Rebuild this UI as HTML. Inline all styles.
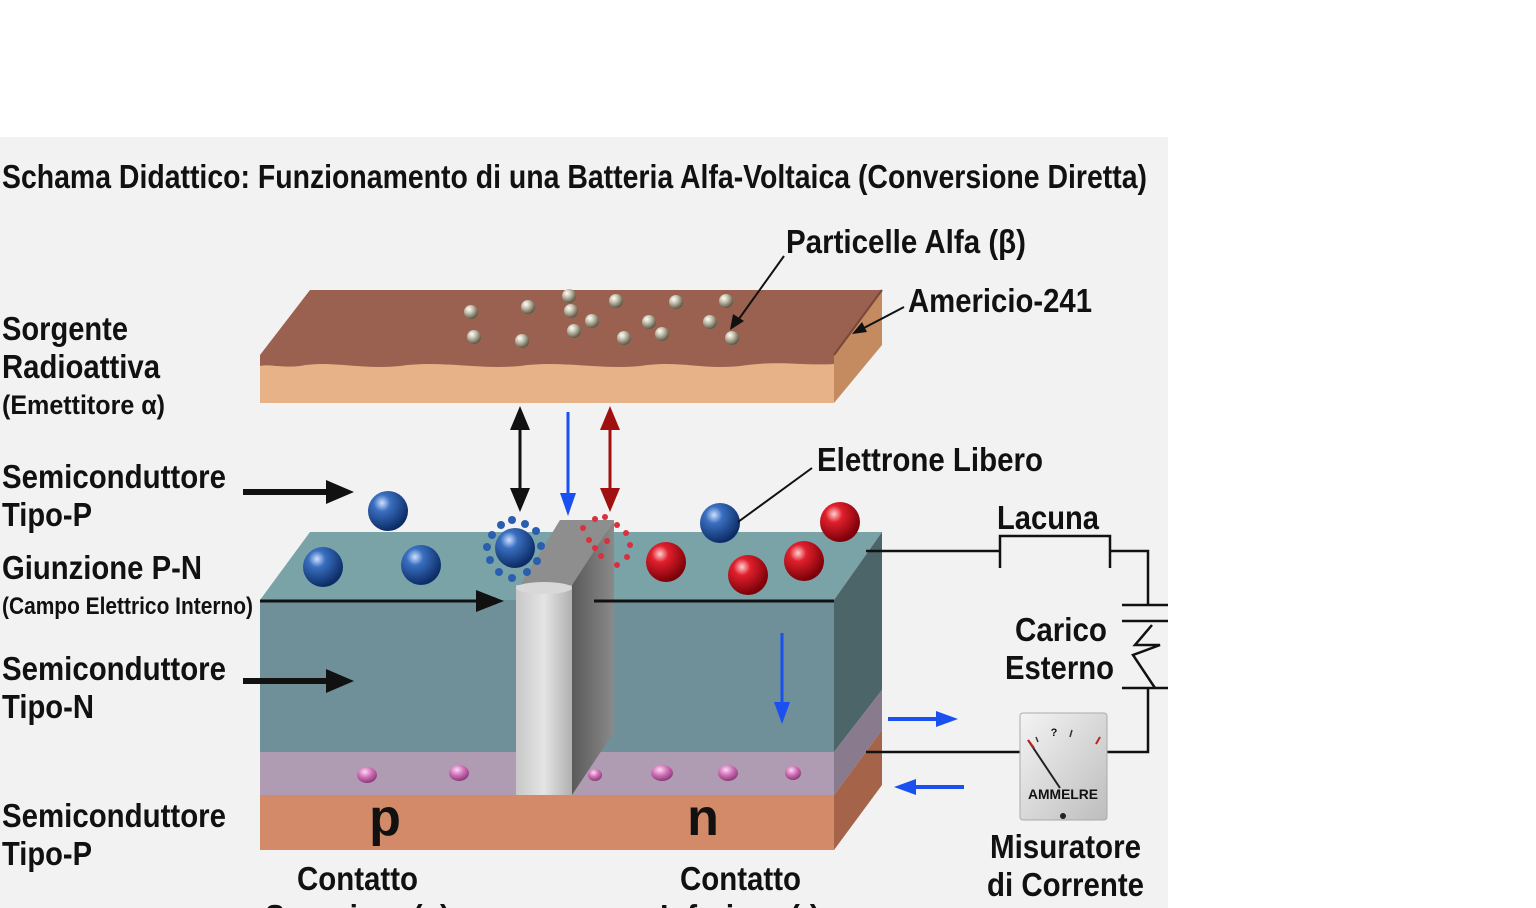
<!DOCTYPE html>
<html><head><meta charset="utf-8"><style>
html,body{margin:0;padding:0;background:#fff;width:1536px;height:908px;overflow:hidden}
svg{display:block}
text{font-family:"Liberation Sans Narrow","Liberation Sans",sans-serif;font-weight:bold;fill:#111}
</style></head><body>
<svg width="1536" height="908" viewBox="0 0 1536 908" xmlns="http://www.w3.org/2000/svg">
<defs>
<radialGradient id="bb" cx="0.35" cy="0.3" r="0.7"><stop offset="0" stop-color="#cfe0ff"/><stop offset="0.3" stop-color="#3a6fc0"/><stop offset="1" stop-color="#0c2c66"/></radialGradient>
<radialGradient id="rb" cx="0.35" cy="0.3" r="0.7"><stop offset="0" stop-color="#ffd0d0"/><stop offset="0.3" stop-color="#e0202c"/><stop offset="1" stop-color="#7a0008"/></radialGradient>
<radialGradient id="gb" cx="0.35" cy="0.3" r="0.7"><stop offset="0" stop-color="#ffffff"/><stop offset="0.4" stop-color="#c8c4b0"/><stop offset="1" stop-color="#5e5a48"/></radialGradient>
<radialGradient id="pb" cx="0.4" cy="0.3" r="0.7"><stop offset="0" stop-color="#ffd8f4"/><stop offset="0.5" stop-color="#d070b8"/><stop offset="1" stop-color="#8a3a78"/></radialGradient>
<linearGradient id="pil" x1="0" x2="1"><stop offset="0" stop-color="#c8c8c8"/><stop offset="0.5" stop-color="#e4e4e4"/><stop offset="1" stop-color="#b0b0b0"/></linearGradient>
<linearGradient id="pils" x1="0" x2="1"><stop offset="0" stop-color="#5a5a5a"/><stop offset="1" stop-color="#8a8a8a"/></linearGradient>
<linearGradient id="met" x1="0" y1="0" x2="1" y2="1"><stop offset="0" stop-color="#f4f4f4"/><stop offset="1" stop-color="#bdbdbd"/></linearGradient>
<marker id="ak" markerWidth="8" markerHeight="8" refX="6" refY="4" orient="auto" markerUnits="userSpaceOnUse"><path d="M0,0 L8,4 L0,8z" fill="#111"/></marker>
</defs>
<rect x="0" y="137" width="1168" height="771" fill="#f2f2f2"/>
<text x="2" y="188" font-size="33" textLength="1145" lengthAdjust="spacingAndGlyphs">Schama Didattico: Funzionamento di una Batteria Alfa-Voltaica (Conversione Diretta)</text>

<!-- top slab -->
<polygon points="260,355 310,290 882,290 834,355" fill="#9a6150"/>
<polygon points="834,355 882,290 882,345 834,403" fill="#c48a60"/>
<polygon points="260,355 834,355 834,403 260,403" fill="#e8b288"/>
<path d="M260,355 L834,355 L834,364 C800,366 780,360 740,366 C700,370 680,360 640,366 C600,370 560,360 520,366 C480,370 440,360 400,366 C360,370 330,360 300,366 C280,368 270,364 260,366Z" fill="#9a6150"/>
<line x1="834" y1="355" x2="882" y2="290" stroke="#7a4638" stroke-width="2"/>
<g fill="url(#gb)">
<circle cx="471" cy="312" r="7"/><circle cx="528" cy="307" r="7"/><circle cx="569" cy="296" r="7"/><circle cx="571" cy="311" r="7"/><circle cx="616" cy="301" r="7"/><circle cx="676" cy="302" r="7"/><circle cx="726" cy="301" r="7"/>
<circle cx="474" cy="337" r="7"/><circle cx="522" cy="341" r="7"/><circle cx="574" cy="331" r="7"/><circle cx="592" cy="321" r="7"/><circle cx="624" cy="338" r="7"/><circle cx="649" cy="322" r="7"/><circle cx="662" cy="334" r="7"/><circle cx="710" cy="322" r="7"/><circle cx="732" cy="338" r="7"/>
</g>

<!-- lower block -->
<polygon points="260,600 310,532 882,532 834,600" fill="#7aa3a8"/>
<rect x="260" y="600" width="574" height="152" fill="#6f9098"/>
<rect x="260" y="752" width="574" height="43" fill="#b09cb2"/>
<rect x="260" y="795" width="574" height="55" fill="#d28a68"/>
<polygon points="834,600 882,532 882,690 834,752" fill="#4b6569"/>
<polygon points="834,752 882,690 882,730 834,795" fill="#8a7a8e"/>
<polygon points="834,795 882,730 882,785 834,850" fill="#a5644a"/>
<g fill="url(#pb)">
<ellipse cx="367" cy="775" rx="10" ry="8"/><ellipse cx="459" cy="773" rx="10" ry="8"/><ellipse cx="595" cy="775" rx="7" ry="6"/><ellipse cx="662" cy="773" rx="11" ry="8"/><ellipse cx="728" cy="773" rx="10" ry="8"/><ellipse cx="793" cy="773" rx="8" ry="7"/>
</g>
<!-- pillar -->
<polygon points="572,585 614,520 614,732 572,795" fill="url(#pils)"/>
<polygon points="516,592 560,520 614,520 572,585" fill="#8e8e8e"/>
<rect x="516" y="585" width="56" height="210" fill="url(#pil)"/>
<ellipse cx="544" cy="588" rx="28" ry="6" fill="#d8d8d8"/>
<!-- inner lines -->
<line x1="260" y1="601" x2="500" y2="601" stroke="#111" stroke-width="3" marker-end="url(#ak)"/>
<polygon points="476,590 504,601 476,612" fill="#111"/>
<line x1="594" y1="601" x2="834" y2="601" stroke="#111" stroke-width="3"/>
<text x="385" y="835" font-size="52" text-anchor="middle">p</text>
<text x="703" y="835" font-size="52" text-anchor="middle">n</text>

<!-- balls -->
<circle cx="388" cy="511" r="20" fill="url(#bb)"/>
<circle cx="323" cy="567" r="20" fill="url(#bb)"/>
<circle cx="421" cy="565" r="20" fill="url(#bb)"/>
<circle cx="515" cy="548" r="20" fill="url(#bb)"/>
<g fill="#2a5fb0"><circle cx="492" cy="535" r="4"/><circle cx="501" cy="525" r="4"/><circle cx="512" cy="520" r="4"/><circle cx="525" cy="524" r="4"/><circle cx="536" cy="531" r="4"/><circle cx="541" cy="546" r="4"/><circle cx="537" cy="561" r="4"/><circle cx="527" cy="572" r="4"/><circle cx="512" cy="578" r="4"/><circle cx="499" cy="572" r="4"/><circle cx="490" cy="560" r="4"/><circle cx="487" cy="547" r="4"/></g>
<g fill="#d8303c"><circle cx="583" cy="528" r="3"/><circle cx="595" cy="519" r="3"/><circle cx="605" cy="517" r="3"/><circle cx="617" cy="525" r="3"/><circle cx="626" cy="533" r="3"/><circle cx="630" cy="545" r="3"/><circle cx="627" cy="557" r="3"/><circle cx="617" cy="565" r="3"/><circle cx="595" cy="548" r="3"/><circle cx="607" cy="541" r="3"/><circle cx="589" cy="540" r="3"/><circle cx="601" cy="556" r="3"/></g>
<circle cx="720" cy="523" r="20" fill="url(#bb)"/>
<circle cx="840" cy="522" r="20" fill="url(#rb)"/>
<circle cx="666" cy="562" r="20" fill="url(#rb)"/>
<circle cx="748" cy="575" r="20" fill="url(#rb)"/>
<circle cx="804" cy="561" r="20" fill="url(#rb)"/>

<!-- vertical arrows -->
<line x1="520" y1="425" x2="520" y2="492" stroke="#111" stroke-width="3"/>
<polygon points="510,430 520,406 530,430" fill="#111"/><polygon points="510,488 520,512 530,488" fill="#111"/>
<line x1="568" y1="412" x2="568" y2="495" stroke="#1a4ff0" stroke-width="3"/>
<polygon points="560,493 568,516 576,493" fill="#1a4ff0"/>
<line x1="610" y1="425" x2="610" y2="492" stroke="#a01010" stroke-width="3"/>
<polygon points="600,430 610,406 620,430" fill="#a01010"/><polygon points="600,488 610,512 620,488" fill="#a01010"/>
<line x1="782" y1="633" x2="782" y2="705" stroke="#1a4ff0" stroke-width="3"/>
<polygon points="774,702 782,724 790,702" fill="#1a4ff0"/>

<!-- left arrows -->
<line x1="243" y1="492" x2="330" y2="492" stroke="#111" stroke-width="6"/><polygon points="326,480 354,492 326,504" fill="#111"/>
<line x1="243" y1="681" x2="330" y2="681" stroke="#111" stroke-width="6"/><polygon points="326,669 354,681 326,693" fill="#111"/>

<!-- pointer lines -->
<line x1="784" y1="256" x2="736" y2="323" stroke="#111" stroke-width="2"/><polygon points="730,330 733,314 744,321" fill="#111"/>
<line x1="904" y1="307" x2="860" y2="330" stroke="#111" stroke-width="2"/><polygon points="852,334 862,322 867,332" fill="#111"/>
<line x1="812" y1="468" x2="738" y2="522" stroke="#111" stroke-width="2"/>

<!-- circuit -->
<g stroke="#111" stroke-width="2.5" fill="none">
<polyline points="866,551 1000,551"/>
<polyline points="1000,568 1000,536 1110,536 1110,568"/>
<polyline points="1110,551 1148,551 1148,605"/>
<line x1="1122" y1="605" x2="1168" y2="605"/>
<line x1="1122" y1="621" x2="1168" y2="621"/>
<polyline points="1152,625 1135,645 1160,645 1133,655 1155,688"/>
<line x1="1122" y1="688" x2="1168" y2="688"/>
<polyline points="1148,688 1148,752 1105,752"/>
<line x1="866" y1="752" x2="1022" y2="752"/>
</g>
<rect x="1020" y="713" width="87" height="107" rx="3" fill="url(#met)" stroke="#aaa"/>
<line x1="1028" y1="740" x2="1060" y2="788" stroke="#222" stroke-width="2"/>
<line x1="1028" y1="740" x2="1034" y2="748" stroke="#c02020" stroke-width="2"/>
<line x1="1036" y1="737" x2="1038" y2="742" stroke="#333" stroke-width="1.5"/>
<line x1="1072" y1="730" x2="1070" y2="737" stroke="#333" stroke-width="1.5"/>
<line x1="1100" y1="737" x2="1096" y2="744" stroke="#c02020" stroke-width="2"/>
<text x="1054" y="736" font-size="11" text-anchor="middle" font-weight="normal">?</text>
<text x="1063" y="799" font-size="14" text-anchor="middle" font-weight="normal" font-family="Liberation Sans" textLength="70" lengthAdjust="spacingAndGlyphs">AMMELRE</text>
<circle cx="1063" cy="816" r="3" fill="#222"/>
<line x1="888" y1="719" x2="940" y2="719" stroke="#1a4ff0" stroke-width="4"/><polygon points="936,711 958,719 936,727" fill="#1a4ff0"/>
<line x1="912" y1="787" x2="964" y2="787" stroke="#1a4ff0" stroke-width="4"/><polygon points="916,779 894,787 916,795" fill="#1a4ff0"/>

<!-- labels -->
<text x="786" y="253" font-size="33" textLength="240" lengthAdjust="spacingAndGlyphs">Particelle Alfa (β)</text>
<text x="908" y="312" font-size="33" textLength="184" lengthAdjust="spacingAndGlyphs">Americio-241</text>
<text x="2" y="340" font-size="33" textLength="126" lengthAdjust="spacingAndGlyphs">Sorgente</text>
<text x="2" y="378" font-size="33" textLength="158" lengthAdjust="spacingAndGlyphs">Radioattiva</text>
<text x="2" y="414" font-size="27" textLength="163" lengthAdjust="spacingAndGlyphs">(Emettitore α)</text>
<text x="2" y="488" font-size="33" textLength="224" lengthAdjust="spacingAndGlyphs">Semiconduttore</text>
<text x="2" y="526" font-size="33" textLength="90" lengthAdjust="spacingAndGlyphs">Tipo-P</text>
<text x="2" y="579" font-size="33" textLength="200" lengthAdjust="spacingAndGlyphs">Giunzione P-N</text>
<text x="2" y="614" font-size="24" textLength="251" lengthAdjust="spacingAndGlyphs">(Campo Elettrico Interno)</text>
<text x="2" y="680" font-size="33" textLength="224" lengthAdjust="spacingAndGlyphs">Semiconduttore</text>
<text x="2" y="718" font-size="33" textLength="92" lengthAdjust="spacingAndGlyphs">Tipo-N</text>
<text x="2" y="827" font-size="33" textLength="224" lengthAdjust="spacingAndGlyphs">Semiconduttore</text>
<text x="2" y="865" font-size="33" textLength="90" lengthAdjust="spacingAndGlyphs">Tipo-P</text>
<text x="817" y="471" font-size="33" textLength="226" lengthAdjust="spacingAndGlyphs">Elettrone Libero</text>
<text x="997" y="529" font-size="33" textLength="102" lengthAdjust="spacingAndGlyphs">Lacuna</text>
<text x="1015" y="641" font-size="33" textLength="92" lengthAdjust="spacingAndGlyphs">Carico</text>
<text x="1005" y="679" font-size="33" textLength="109" lengthAdjust="spacingAndGlyphs">Esterno</text>
<text x="990" y="858" font-size="33" textLength="151" lengthAdjust="spacingAndGlyphs">Misuratore</text>
<text x="987" y="896" font-size="33" textLength="157" lengthAdjust="spacingAndGlyphs">di Corrente</text>
<text x="297" y="890" font-size="33" textLength="121" lengthAdjust="spacingAndGlyphs">Contatto</text>
<text x="265" y="928" font-size="33" textLength="185" lengthAdjust="spacingAndGlyphs">Superiore (+)</text>
<text x="680" y="890" font-size="33" textLength="121" lengthAdjust="spacingAndGlyphs">Contatto</text>
<text x="660" y="928" font-size="33" textLength="160" lengthAdjust="spacingAndGlyphs">Inferiore (-)</text>
</svg>
</body></html>
